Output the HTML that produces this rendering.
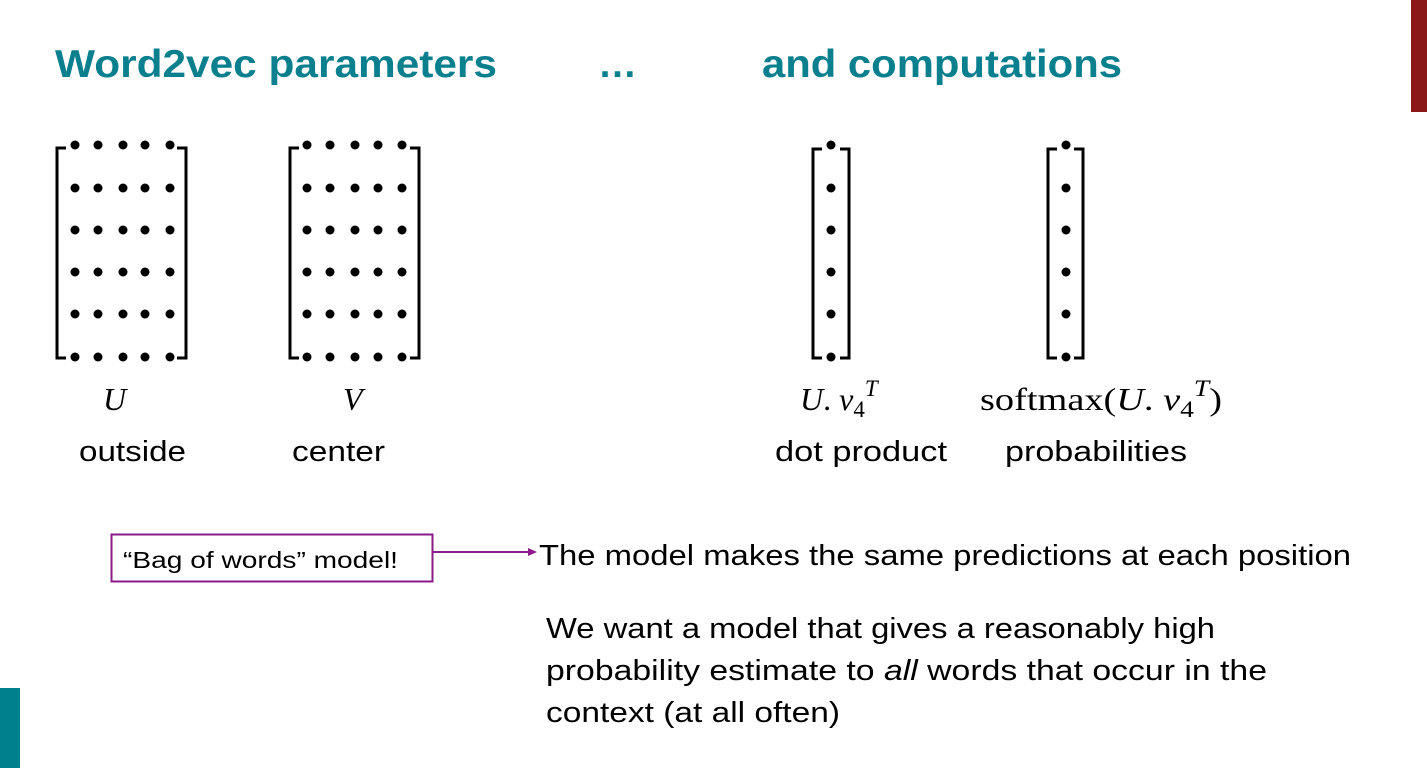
<!DOCTYPE html>
<html><head><meta charset="utf-8"><style>
html,body{margin:0;padding:0;background:#fff;width:1427px;height:768px;overflow:hidden}
svg{display:block}
.t{font-family:"Liberation Sans",sans-serif}
.m{font-family:"Liberation Serif",serif}
</style></head><body>
<svg width="1427" height="768" viewBox="0 0 1427 768" xmlns="http://www.w3.org/2000/svg">
<defs>
<g id="r" fill="#000">
<circle cx="75" cy="0" r="4.5"/><circle cx="98" cy="0" r="4.5"/><circle cx="123" cy="0" r="4.5"/><circle cx="145" cy="0" r="4.5"/><circle cx="170" cy="0" r="4.5"/>
<circle cx="307" cy="0" r="4.5"/><circle cx="330" cy="0" r="4.5"/><circle cx="355" cy="0" r="4.5"/><circle cx="378" cy="0" r="4.5"/><circle cx="402" cy="0" r="4.5"/>
<circle cx="831" cy="0" r="4.5"/><circle cx="1066" cy="0" r="4.5"/>
</g>
</defs>
<rect x="1411" y="0" width="16" height="112" fill="#8b1818"/>
<rect x="0" y="688" width="20" height="80" fill="#007f8c"/>
<g class="t" font-weight="bold" font-size="39" fill="#0a7f8e">
<text x="55" y="77" textLength="442" lengthAdjust="spacingAndGlyphs">Word2vec parameters</text>
<text x="598" y="77">…</text>
<text x="762" y="77" textLength="360" lengthAdjust="spacingAndGlyphs">and computations</text>
</g>
<g fill="none" stroke="#000" stroke-width="3">
<path d="M66,148 H57 V358 H66"/><path d="M177,148 H186 V358 H177"/>
<path d="M299,148 H290 V358 H299"/><path d="M410,148 H419 V358 H410"/>
<path d="M822,149 H813 V358 H822"/><path d="M840,149 H849 V358 H840"/>
<path d="M1057,149 H1048 V358 H1057"/><path d="M1074,149 H1083 V358 H1074"/>
</g>
<use href="#r" y="145"/><use href="#r" y="188"/><use href="#r" y="230"/><use href="#r" y="272"/><use href="#r" y="314"/><use href="#r" y="357"/>
<g class="m" font-size="32" fill="#000">
<text x="103" y="410" font-style="italic">U</text>
<text x="343" y="410" font-style="italic">V</text>
<text x="800" y="410"><tspan font-style="italic">U</tspan>. <tspan font-style="italic">v</tspan><tspan font-size="23" dy="7">4</tspan><tspan font-style="italic" font-size="23" dy="-21">T</tspan></text>
<text x="980" y="410" textLength="242" lengthAdjust="spacingAndGlyphs">softmax(<tspan font-style="italic">U</tspan>. <tspan font-style="italic">v</tspan><tspan font-size="23" dy="7">4</tspan><tspan font-style="italic" font-size="23" dy="-21">T</tspan><tspan dy="14">)</tspan></text>
</g>
<g class="t" font-size="29" fill="#000">
<text x="79" y="461" textLength="107" lengthAdjust="spacingAndGlyphs">outside</text>
<text x="292" y="461" textLength="93" lengthAdjust="spacingAndGlyphs">center</text>
<text x="775" y="461" textLength="172" lengthAdjust="spacingAndGlyphs">dot product</text>
<text x="1005" y="461" textLength="182" lengthAdjust="spacingAndGlyphs">probabilities</text>
<text x="539" y="565" textLength="812" lengthAdjust="spacingAndGlyphs">The model makes the same predictions at each position</text>
<text x="546" y="638" textLength="669" lengthAdjust="spacingAndGlyphs">We want a model that gives a reasonably high</text>
<text x="546" y="680" textLength="721" lengthAdjust="spacingAndGlyphs">probability estimate to <tspan font-style="italic">all</tspan> words that occur in the</text>
<text x="546" y="722" textLength="294" lengthAdjust="spacingAndGlyphs">context (at all often)</text>
</g>
<rect x="111.5" y="534.5" width="321" height="47" fill="none" stroke="#8b1a8b" stroke-width="2"/>
<text class="t" x="123" y="568" font-size="23" fill="#000" textLength="275" lengthAdjust="spacingAndGlyphs">“Bag of words” model!</text>
<line x1="433" y1="552" x2="530" y2="552" stroke="#8b1a8b" stroke-width="2"/>
<path d="M537,552 L528,548 L528,556 Z" fill="#8b1a8b"/>
</svg>
</body></html>
